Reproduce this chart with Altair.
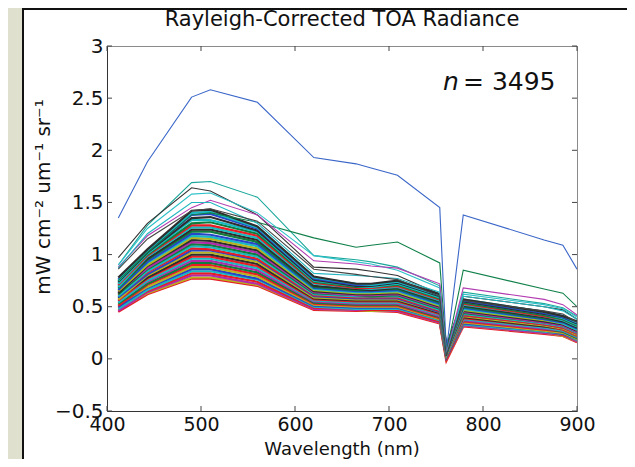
import altair as alt
import pandas as pd

# MERIS band centres (nm)
WAVELENGTHS = [412, 443, 490, 510, 560, 620, 665, 681, 709, 754, 761, 779, 865, 885, 900]

# isolated spectra above the main cloud
OUTLIER_BLUE    = [1.35, 1.89, 2.51, 2.58, 2.46, 1.93, 1.87, 1.83, 1.76, 1.45, 0.08, 1.38, 1.14, 1.09, 0.86]
OUTLIER_TEAL    = [0.90, 1.28, 1.69, 1.70, 1.55, 0.99, 0.95, 0.93, 0.88, 0.70, 0.05, 0.64, 0.53, 0.49, 0.41]
OUTLIER_GREEN   = [0.75, 1.02, 1.38, 1.40, 1.31, 1.16, 1.07, 1.09, 1.12, 0.92, 0.06, 0.85, 0.67, 0.63, 0.50]
OUTLIER_BLACK   = [0.97, 1.30, 1.64, 1.61, 1.38, 0.88, 0.86, 0.84, 0.80, 0.62, 0.03, 0.60, 0.50, 0.47, 0.38]
OUTLIER_CYAN    = [0.90, 1.25, 1.58, 1.59, 1.40, 0.99, 0.93, 0.91, 0.85, 0.68, 0.04, 0.62, 0.52, 0.48, 0.40]
OUTLIER_MAGENTA = [0.88, 1.18, 1.45, 1.52, 1.38, 0.94, 0.91, 0.89, 0.87, 0.72, 0.05, 0.68, 0.57, 0.52, 0.42]
OUTLIER_CYAN2   = [0.87, 1.20, 1.50, 1.50, 1.30, 0.82, 0.80, 0.79, 0.77, 0.64, 0.04, 0.60, 0.50, 0.46, 0.38]
OUTLIER_GREY    = [0.86, 1.15, 1.42, 1.44, 1.32, 0.86, 0.81, 0.79, 0.76, 0.60, 0.03, 0.56, 0.46, 0.43, 0.35]

OUTLIERS = [OUTLIER_BLUE, OUTLIER_TEAL, OUTLIER_GREEN, OUTLIER_BLACK,
            OUTLIER_CYAN, OUTLIER_MAGENTA, OUTLIER_CYAN2, OUTLIER_GREY]
OUTLIER_COLORS = ["#3a66c8", "#1aa79a", "#10804a", "#333333",
                  "#2cc0c8", "#b23cb2", "#22b6c0", "#444444"]

BAND = [
    [0.45, 0.62, 0.77, 0.77, 0.70, 0.47, 0.46, 0.46, 0.45, 0.34, -0.02, 0.31, 0.24, 0.22, 0.16],
    [0.47, 0.63, 0.78, 0.78, 0.71, 0.48, 0.47, 0.46, 0.46, 0.35, 0.00, 0.32, 0.25, 0.22, 0.17],
    [0.46, 0.64, 0.80, 0.80, 0.72, 0.48, 0.47, 0.47, 0.46, 0.35, 0.01, 0.32, 0.25, 0.23, 0.17],
    [0.49, 0.65, 0.82, 0.82, 0.74, 0.49, 0.48, 0.47, 0.47, 0.36, 0.00, 0.33, 0.26, 0.23, 0.18],
    [0.48, 0.66, 0.84, 0.84, 0.76, 0.50, 0.48, 0.48, 0.48, 0.37, 0.02, 0.33, 0.26, 0.24, 0.18],
    [0.50, 0.68, 0.86, 0.86, 0.77, 0.51, 0.49, 0.49, 0.49, 0.38, 0.01, 0.34, 0.27, 0.24, 0.19],
    [0.52, 0.69, 0.88, 0.88, 0.79, 0.52, 0.50, 0.50, 0.50, 0.38, 0.03, 0.35, 0.27, 0.25, 0.19],
    [0.51, 0.71, 0.90, 0.90, 0.81, 0.53, 0.51, 0.51, 0.51, 0.39, 0.02, 0.36, 0.28, 0.26, 0.20],
    [0.53, 0.72, 0.92, 0.92, 0.83, 0.54, 0.52, 0.52, 0.52, 0.40, 0.03, 0.37, 0.29, 0.26, 0.20],
    [0.55, 0.74, 0.94, 0.94, 0.85, 0.55, 0.53, 0.53, 0.53, 0.41, 0.04, 0.37, 0.29, 0.27, 0.21],
    [0.54, 0.75, 0.96, 0.96, 0.87, 0.56, 0.54, 0.54, 0.54, 0.42, 0.03, 0.38, 0.30, 0.27, 0.21],
    [0.56, 0.77, 0.98, 0.98, 0.89, 0.57, 0.55, 0.55, 0.55, 0.43, 0.04, 0.39, 0.31, 0.28, 0.22],
    [0.58, 0.78, 1.00, 1.00, 0.91, 0.58, 0.56, 0.56, 0.56, 0.44, 0.05, 0.40, 0.31, 0.29, 0.23],
    [0.57, 0.80, 1.02, 1.02, 0.93, 0.59, 0.57, 0.57, 0.57, 0.45, 0.04, 0.41, 0.32, 0.29, 0.23],
    [0.59, 0.81, 1.04, 1.04, 0.95, 0.60, 0.58, 0.58, 0.58, 0.45, 0.05, 0.42, 0.33, 0.30, 0.24],
    [0.61, 0.83, 1.06, 1.05, 0.96, 0.61, 0.59, 0.59, 0.59, 0.46, 0.06, 0.42, 0.33, 0.30, 0.24],
    [0.60, 0.84, 1.08, 1.07, 0.98, 0.62, 0.60, 0.60, 0.60, 0.47, 0.05, 0.43, 0.34, 0.31, 0.25],
    [0.62, 0.86, 1.10, 1.09, 1.00, 0.63, 0.61, 0.60, 0.61, 0.48, 0.06, 0.44, 0.35, 0.32, 0.26],
    [0.64, 0.87, 1.12, 1.11, 1.02, 0.64, 0.61, 0.61, 0.62, 0.49, 0.07, 0.45, 0.35, 0.32, 0.26],
    [0.63, 0.89, 1.14, 1.13, 1.04, 0.65, 0.62, 0.62, 0.63, 0.50, 0.06, 0.46, 0.36, 0.33, 0.27],
    [0.65, 0.90, 1.16, 1.15, 1.06, 0.66, 0.63, 0.63, 0.64, 0.51, 0.07, 0.47, 0.37, 0.34, 0.28],
    [0.67, 0.92, 1.18, 1.17, 1.08, 0.67, 0.64, 0.64, 0.65, 0.52, 0.08, 0.48, 0.38, 0.34, 0.28],
    [0.66, 0.93, 1.20, 1.19, 1.10, 0.68, 0.65, 0.65, 0.66, 0.53, 0.07, 0.49, 0.38, 0.35, 0.29],
    [0.68, 0.95, 1.22, 1.22, 1.12, 0.69, 0.66, 0.66, 0.67, 0.54, 0.08, 0.50, 0.39, 0.36, 0.30],
    [0.70, 0.96, 1.24, 1.24, 1.14, 0.70, 0.67, 0.66, 0.68, 0.55, 0.09, 0.51, 0.40, 0.36, 0.30],
    [0.69, 0.98, 1.26, 1.26, 1.16, 0.72, 0.68, 0.67, 0.69, 0.56, 0.08, 0.52, 0.41, 0.37, 0.31],
    [0.71, 0.99, 1.28, 1.28, 1.18, 0.73, 0.68, 0.68, 0.70, 0.57, 0.09, 0.53, 0.41, 0.38, 0.32],
    [0.73, 1.00, 1.30, 1.31, 1.20, 0.74, 0.69, 0.69, 0.71, 0.58, 0.10, 0.54, 0.42, 0.38, 0.32],
    [0.72, 1.01, 1.33, 1.33, 1.22, 0.75, 0.70, 0.69, 0.72, 0.59, 0.09, 0.55, 0.43, 0.39, 0.33],
    [0.74, 1.02, 1.35, 1.36, 1.23, 0.76, 0.70, 0.70, 0.73, 0.60, 0.10, 0.55, 0.43, 0.40, 0.34],
    [0.76, 1.03, 1.38, 1.39, 1.25, 0.77, 0.71, 0.71, 0.74, 0.61, 0.11, 0.56, 0.44, 0.40, 0.35],
    [0.75, 1.04, 1.40, 1.41, 1.26, 0.78, 0.72, 0.71, 0.74, 0.61, 0.10, 0.57, 0.45, 0.41, 0.35],
    [0.78, 1.05, 1.42, 1.43, 1.27, 0.79, 0.72, 0.72, 0.75, 0.62, 0.12, 0.57, 0.45, 0.41, 0.36],
]
# MATLAB-like colour order: blue, green, red, cyan, magenta, olive, black
PALETTE = ["#2746c8", "#0e7d3e", "#e81c24", "#18bac2", "#b02caa", "#b8b41e", "#2e2e2e"]
BAND_COLOR_INDEX = [2, 5, 4, 2, 3, 0, 5, 2, 1, 4, 3, 2, 6, 5, 0, 2, 3, 1, 4, 6,
                    5, 3, 0, 1, 6, 3, 2, 1, 3, 6, 0, 3, 6]

X_TICKS = [400, 500, 600, 700, 800, 900]
Y_TICKS = [-0.5, 0, 0.5, 1, 1.5, 2, 2.5, 3]

TITLE = "Rayleigh-Corrected TOA Radiance"
X_TITLE = "Wavelength (nm)"
Y_TITLE = "mW cm\u207b\u00b2 um\u207b\u00b9 sr\u207b\u00b9"

W, H = 470, 365
FONT = "DejaVu Sans"

rows = []
for i, spec in enumerate(BAND):
    for wl, v in zip(WAVELENGTHS, spec):
        rows.append({"id": f"b{i:02d}", "wl": wl, "v": v})
band_df = pd.DataFrame(rows)
band_ids = [f"b{i:02d}" for i in range(len(BAND))]
band_cols = [PALETTE[k] for k in BAND_COLOR_INDEX]

rows = []
for i, spec in enumerate(OUTLIERS):
    for wl, v in zip(WAVELENGTHS, spec):
        rows.append({"id": f"o{i}", "wl": wl, "v": v})
out_df = pd.DataFrame(rows)
out_ids = [f"o{i}" for i in range(len(OUTLIERS))]

xscale = alt.Scale(domain=[400, 900], nice=False, zero=False)
yscale = alt.Scale(domain=[-0.5, 3], nice=False, zero=False)

x_axis = alt.Axis(values=X_TICKS, ticks=False, grid=False, labelFlush=False,
                  labelFontSize=19, labelFont=FONT, labelColor="#111", labelPadding=4,
                  domainColor="#333", title=None)
y_axis = alt.Axis(values=Y_TICKS, ticks=False, grid=False, labelFlush=False,
                  labelFontSize=20, labelFont=FONT, labelColor="#111", labelPadding=4,
                  labelOverlap=False, format="~g",
                  domainColor="#333", title=None)

one = pd.DataFrame({"a": [0]})

# beige strip and black edge of the white panel, left of the axes
strip = alt.Chart(one).mark_rect(fill="#dfe0ce").encode(
    x=alt.value(-99), x2=alt.value(-84), y=alt.value(-38), y2=alt.value(H + 48))
edge_left = alt.Chart(one).mark_rule(color="#111", strokeWidth=2).encode(
    x=alt.value(-84), y=alt.value(-38), y2=alt.value(H + 48))
edge_top = alt.Chart(one).mark_rule(color="#111", strokeWidth=2).encode(
    x=alt.value(-85), x2=alt.value(W + 50), y=alt.value(-37))

band = alt.Chart(band_df).mark_line(strokeWidth=2.2, clip=True).encode(
    x=alt.X("wl:Q", scale=xscale, axis=x_axis),
    y=alt.Y("v:Q", scale=yscale, axis=y_axis),
    color=alt.Color("id:N", scale=alt.Scale(domain=band_ids, range=band_cols), legend=None),
)

outl = alt.Chart(out_df).mark_line(strokeWidth=1.1, clip=True).encode(
    x=alt.X("wl:Q", scale=xscale),
    y=alt.Y("v:Q", scale=yscale),
    stroke=alt.Stroke("id:N", scale=alt.Scale(domain=out_ids, range=OUTLIER_COLORS), legend=None),
)

xt = pd.DataFrame({"t": X_TICKS})
yt = pd.DataFrame({"t": Y_TICKS})
tick_col = "#444"
xt_bottom = alt.Chart(xt).mark_rule(color=tick_col).encode(
    x=alt.X("t:Q", scale=xscale), y=alt.value(H), y2=alt.value(H - 5))
xt_top = alt.Chart(xt).mark_rule(color=tick_col).encode(
    x=alt.X("t:Q", scale=xscale), y=alt.value(0), y2=alt.value(5))
yt_left = alt.Chart(yt).mark_rule(color=tick_col).encode(
    y=alt.Y("t:Q", scale=yscale), x=alt.value(0), x2=alt.value(5))
yt_right = alt.Chart(yt).mark_rule(color=tick_col).encode(
    y=alt.Y("t:Q", scale=yscale), x=alt.value(W), x2=alt.value(W - 5))

title = alt.Chart(one).mark_text(
    text=TITLE, font=FONT, fontSize=21, color="#111", align="center", baseline="alphabetic"
).encode(x=alt.value(W / 2), y=alt.value(-20))
x_title = alt.Chart(one).mark_text(
    text=X_TITLE, font=FONT, fontSize=18, color="#111", align="center", baseline="alphabetic"
).encode(x=alt.value(W / 2), y=alt.value(H + 44))
y_title = alt.Chart(one).mark_text(
    text=Y_TITLE, font=FONT, fontSize=20, color="#111", align="center",
    baseline="alphabetic", angle=270
).encode(x=alt.value(-57), y=alt.value(151))
n_it = alt.Chart(one).mark_text(
    text="n", font=FONT, fontSize=25, fontStyle="italic", color="#111",
    align="left", baseline="alphabetic"
).encode(x=alt.value(336), y=alt.value(44))
n_val = alt.Chart(one).mark_text(
    text="= 3495", font=FONT, fontSize=25, color="#111", align="left", baseline="alphabetic"
).encode(x=alt.value(356), y=alt.value(44))

chart = alt.layer(
    band, outl, strip, edge_left, edge_top, xt_bottom, xt_top, yt_left, yt_right,
    title, x_title, y_title, n_it, n_val
).resolve_scale(color="independent", stroke="independent").properties(
    width=W, height=H,
    autosize=alt.AutoSizeParams(type="none"),
    padding={"left": 99, "top": 38, "right": 50, "bottom": 48},
    background="white",
).configure_view(stroke="#8a8a8a", strokeWidth=1)

chart.save("out.html", embed_options={"renderer": "svg", "actions": False})
